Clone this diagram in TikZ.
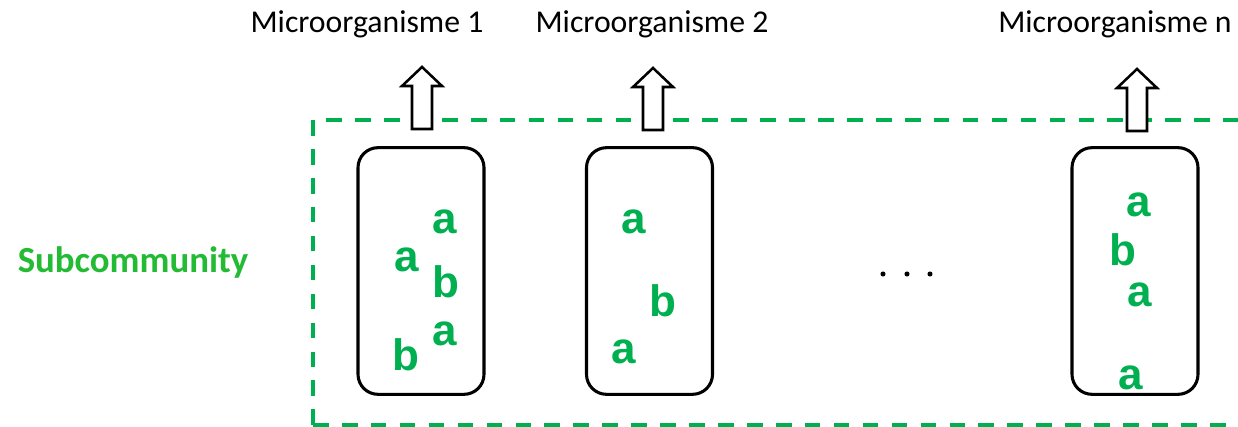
\documentclass[tikz,border=0pt]{standalone}
\usepackage{fontspec}
\setmainfont{Carlito}
\newfontfamily\letterfont{Liberation Sans}
\definecolor{lettergreen}{HTML}{00B050}
\definecolor{subgreen}{HTML}{22BB33}
\begin{document}
\begin{tikzpicture}[x=0.75pt,y=-0.75pt,
  groupframe/.style={draw=lettergreen,line width=3pt,dash pattern=on 11.7pt off 10pt},
  cellbox/.style={draw,line width=2.3pt,rounded corners=15pt,minimum width=94.5pt,minimum height=185pt,inner sep=0pt},
  title/.style={font=\fontsize{23.8}{28}\selectfont,anchor=base,inner sep=0pt},
  sym/.style={font=\letterfont\bfseries\fontsize{33}{38}\selectfont,text=lettergreen,inner sep=0pt},
  outarrow/.pic={\draw[line width=1.9pt,fill=white,line join=miter]
      (-10,0) -- (-10,-43) -- (-20,-43) -- (0,-62) -- (20,-43) -- (10,-43) -- (10,0) -- cycle;}]
\useasboundingbox (0,0) rectangle (1238,427);
\begin{scope}
  \clip (0,0) rectangle (1238,427);
  \draw[groupframe] (313,425) -- (313,120) -- (1280,120);
  \draw[groupframe] (313,425) -- (1280,425);
\end{scope}

% label on the left
\node[font=\bfseries\fontsize{27.6}{32}\selectfont,text=subgreen,inner sep=0pt] (sub) at (133,262) {Subcommunity};

% the three cells
\node[cellbox] (m1) at (421,271) {};
\node[cellbox] (m2) at (649.5,271) {};
\node[cellbox] (mn) at (1135,271) {};

% output arrows and names
\pic at (422,129) {outarrow};
\pic at (653,130) {outarrow};
\pic at (1137,131) {outarrow};
\node[title] (t1) at (367,33) {Microorganisme 1};
\node[title] (t2) at (652,33) {Microorganisme 2};
\node[title] (tn) at (1115,33) {Microorganisme n};

% contents of cell 1
\node[sym] (a11) at (445,222) {a};
\node[sym] (a12) at (407,260) {a};
\node[sym] (b11) at (446,282) {b};
\node[sym] (a13) at (445,334) {a};
\node[sym] (b12) at (406,355) {b};

% contents of cell 2
\node[sym] (a21) at (634,222) {a};
\node[sym] (b21) at (663,301) {b};
\node[sym] (a22) at (624,352) {a};

% contents of cell n
\node[sym] (an1) at (1139,205) {a};
\node[sym] (bn1) at (1123,250) {b};
\node[sym] (an2) at (1140,295) {a};
\node[sym] (an3) at (1131,378) {a};

% ellipsis between the cells
\foreach \x [count=\i] in {883,907,930}
  \fill (\x,274) circle (1.9pt) coordinate (dot\i);
\end{tikzpicture}
\end{document}
